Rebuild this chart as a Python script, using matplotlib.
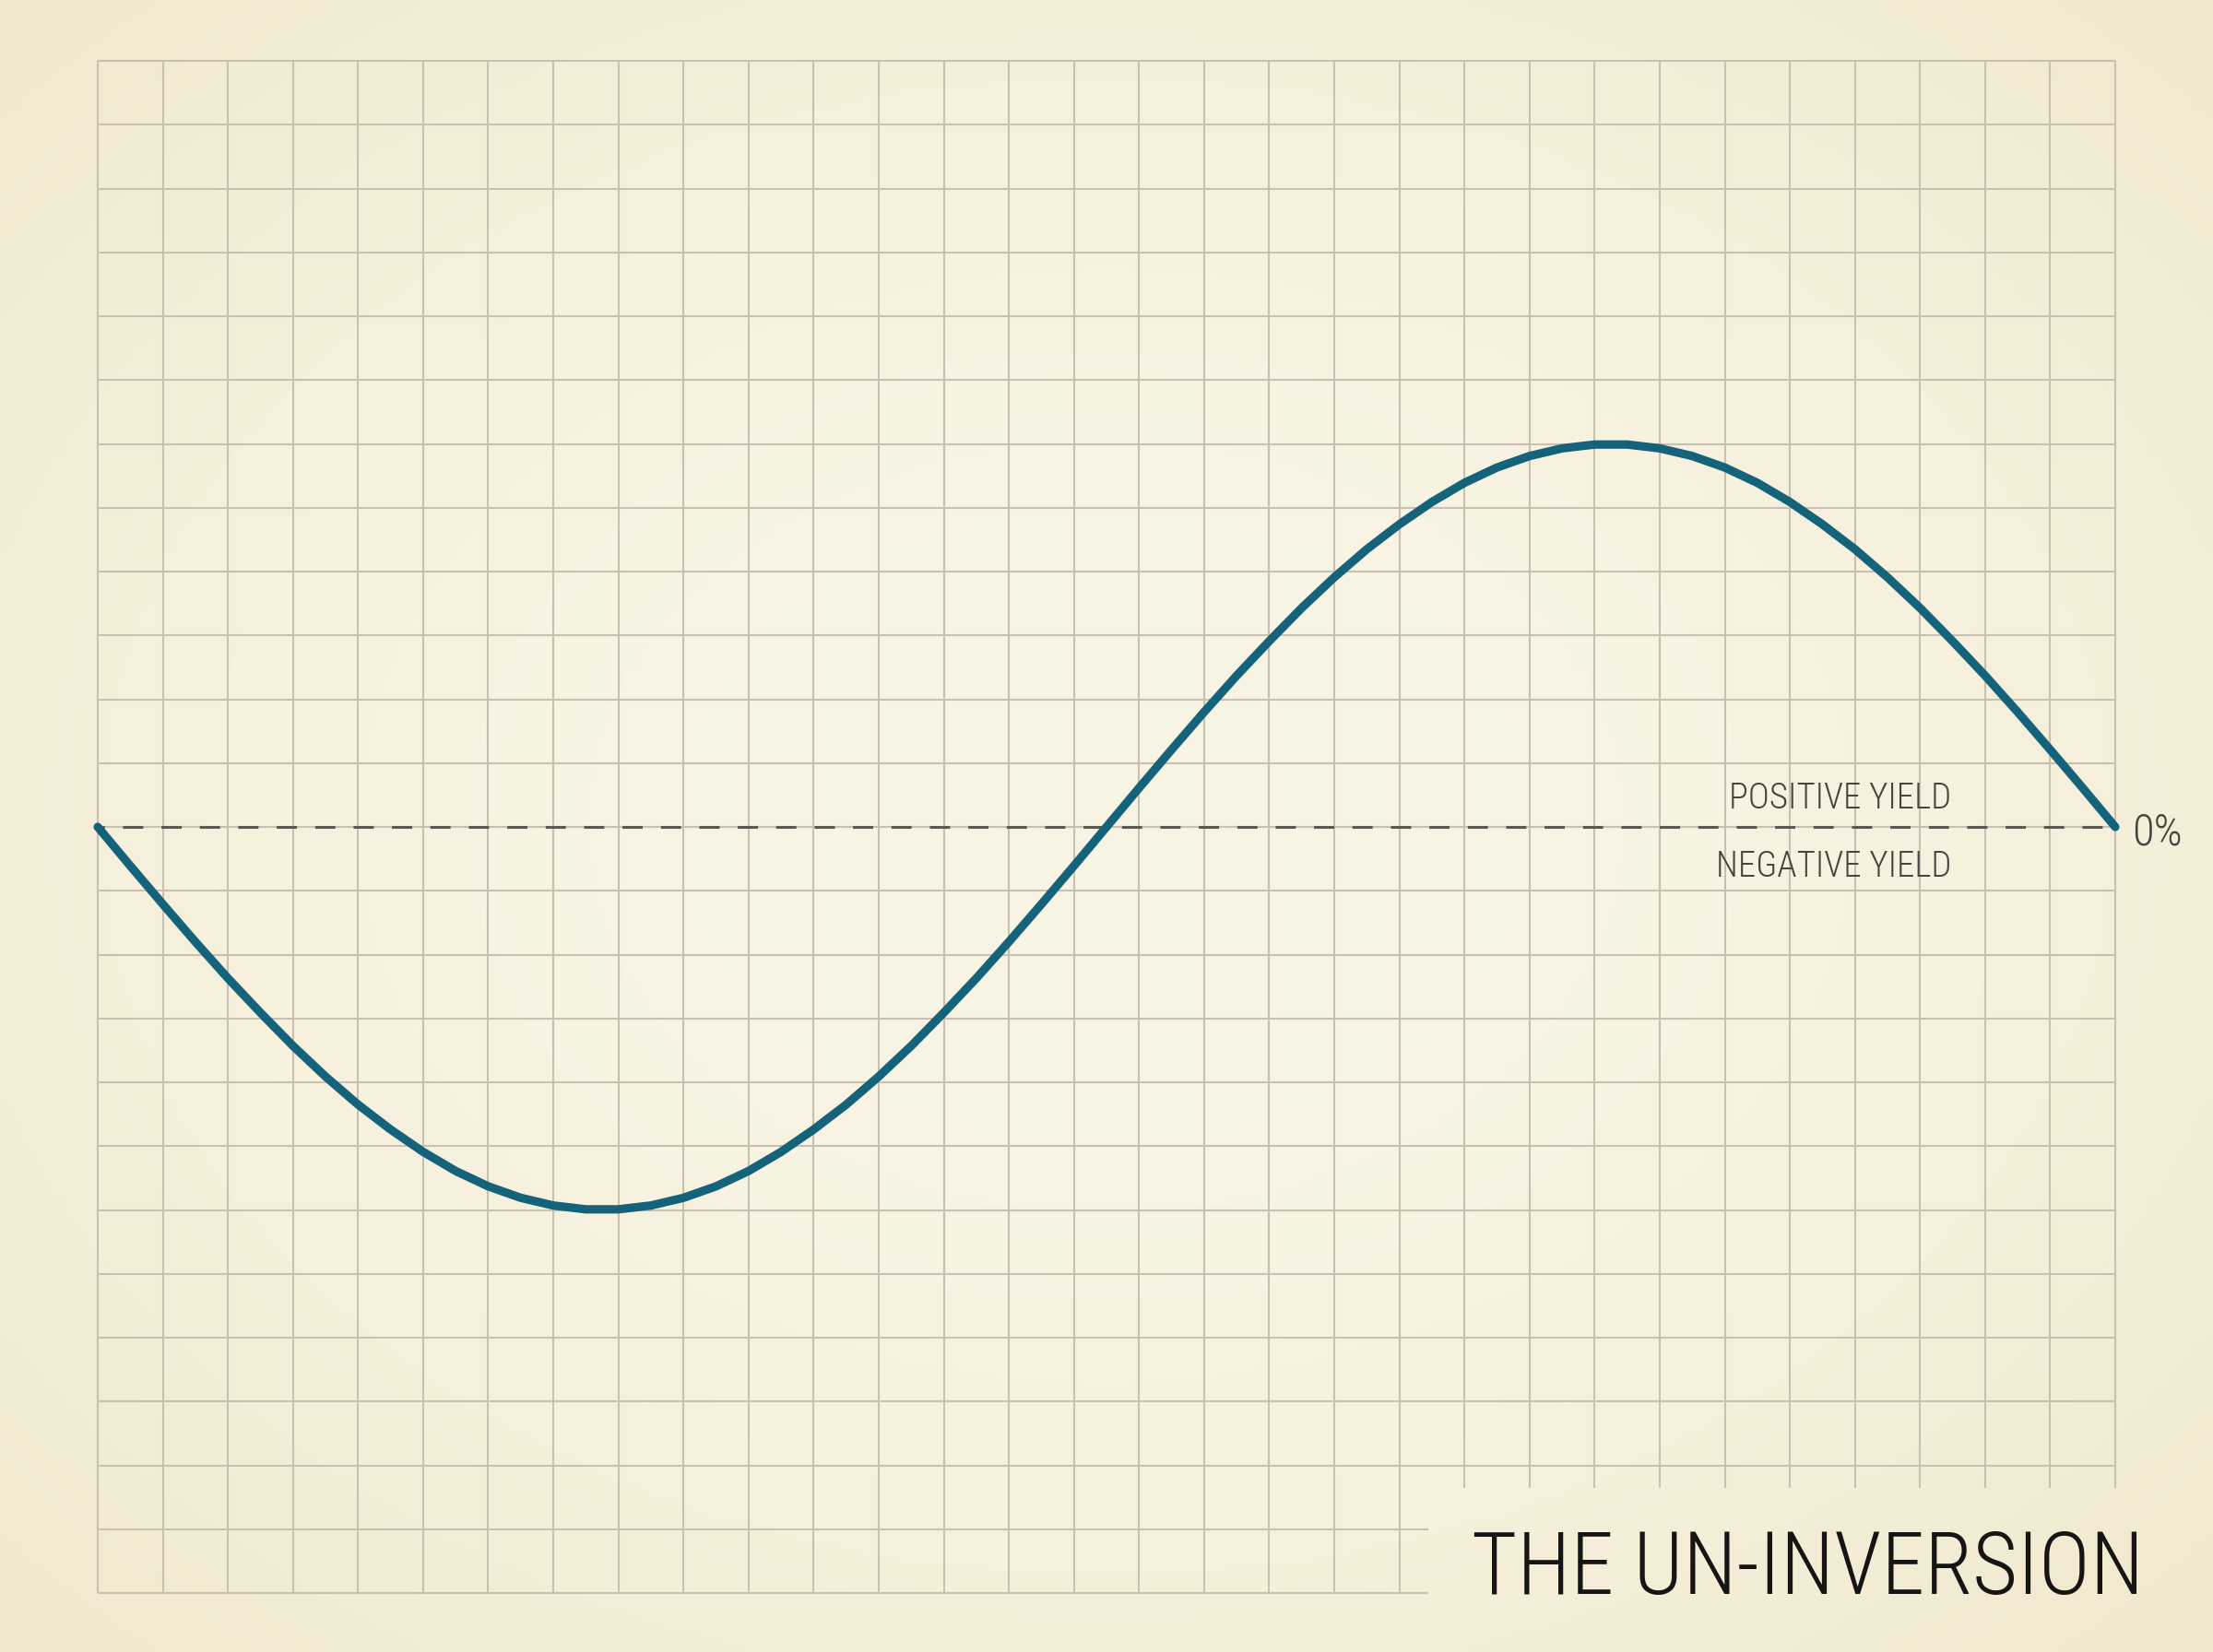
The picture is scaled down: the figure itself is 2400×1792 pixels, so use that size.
import numpy as np
import matplotlib.pyplot as plt
from matplotlib import font_manager as fm

# curve, one value per half column (grid units, 0 = zero yield)
x_cols = np.arange(0, 31.5, 0.5)
yield_curve = [0, -0.61, -1.21, -1.80, -2.37, -2.91, -3.43, -3.91, -4.35, -4.74,
               -5.09, -5.39, -5.63, -5.81, -5.93, -5.99, -5.99, -5.93, -5.81, -5.63,
               -5.39, -5.09, -4.74, -4.35, -3.91, -3.43, -2.91, -2.37, -1.80, -1.21,
               -0.61, 0, 0.61, 1.21, 1.80, 2.37, 2.91, 3.43, 3.91, 4.35, 4.74, 5.09,
               5.39, 5.63, 5.81, 5.93, 5.99, 5.99, 5.93, 5.81, 5.63, 5.39, 5.09,
               4.74, 4.35, 3.91, 3.43, 2.91, 2.37, 1.80, 1.21, 0.61, 0]

title = "THE UN-INVERSION"
label_pos = "POSITIVE YIELD"
label_neg = "NEGATIVE YIELD"
zero_label = "0%"

n_cols, n_rows = 31, 24

plt.rcParams["lines.scale_dashes"] = False


def pick_font():
    prefs = ["roboto", "open sans", "dejavu", "liberation", "noto"]
    cands = []
    for f in fm.fontManager.ttflist:
        tag = (f.name + " " + f.fname).lower()
        narrow = ("condensed" in tag or "narrow" in tag
                  or f.stretch in ("condensed", "semi-condensed", "extra-condensed"))
        if not narrow or f.style != "normal" or "italic" in tag or "oblique" in tag:
            continue
        w = f.weight if isinstance(f.weight, int) else fm.weight_dict.get(f.weight, 400)
        rank = next((i for i, p in enumerate(prefs) if p in tag), len(prefs))
        cands.append((rank, abs(w - 300), f.fname))
    if cands:
        cands.sort()
        return fm.FontProperties(fname=cands[0][2])
    return fm.FontProperties(family=["Lato", "DejaVu Sans"], weight="light")


font = pick_font()

fig = plt.figure(figsize=(12, 8.96), dpi=200)

# paper background
bg = fig.add_axes([0, 0, 1, 1], zorder=-10)
gy, gx = np.mgrid[-1:1:300j, -1:1:400j]
r = np.clip((gx ** 2 + gy ** 2) / 2.0, 0, 1)
c_mid = np.array([249, 245, 229]) / 255
c_edge = np.array([240, 232, 205]) / 255
img = c_mid[None, None, :] * (1 - r[..., None]) + c_edge[None, None, :] * r[..., None]
bg.imshow(img, aspect="auto", extent=[0, 1, 0, 1])
bg.axis("off")

ax = fig.add_axes([106 / 2400, 64 / 1792, 2188 / 2400, 1662 / 1792])
ax.set_xlim(0, n_cols)
ax.set_ylim(-n_rows / 2, n_rows / 2)
ax.axis("off")
ax.patch.set_visible(False)

grid_col = "#c8c1b2"
cut_x, cut_y = 20.45, -10.35
xs = np.arange(n_cols + 1)
ys = np.arange(-n_rows / 2, n_rows / 2 + 1)
ax.vlines(xs, np.where(xs <= 20, -n_rows / 2, cut_y), n_rows / 2,
          color=grid_col, lw=0.75, clip_on=False, zorder=1)
ax.hlines(ys, 0, np.where(ys >= -10, n_cols, cut_x),
          color=grid_col, lw=0.75, clip_on=False, zorder=1)

ax.axhline(0, color="#5e5750", lw=1.1, linestyle=(5.3, (7.9, 7.1)), zorder=2)

ax.plot(x_cols, yield_curve, color="#15627b", lw=3.3,
        solid_capstyle="round", solid_joinstyle="round", zorder=3, clip_on=False)

ax.text(28.48, 0.29, label_pos, ha="right", va="baseline", fontproperties=font,
        fontsize=14, color="#4a433d")
ax.text(28.48, -0.78, label_neg, ha="right", va="baseline", fontproperties=font,
        fontsize=14, color="#4a433d")
ax.text(31.25, -0.275, zero_label, ha="left", va="baseline", fontproperties=font,
        fontsize=17.5, color="#4a433d", clip_on=False)

fig.text(1596 / 2400, 63 / 1792, title, ha="left", va="baseline",
         fontproperties=font, fontsize=34, color="#161514")

fig.savefig("out.png", dpi=200)
